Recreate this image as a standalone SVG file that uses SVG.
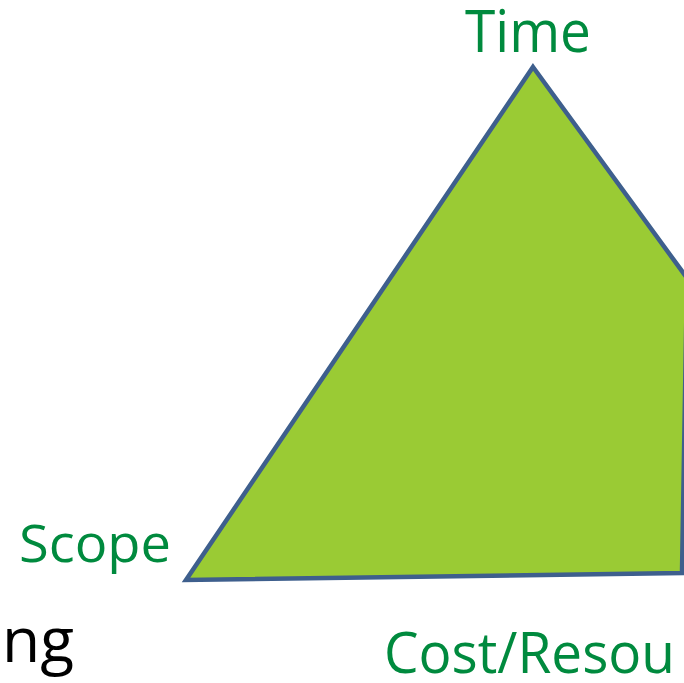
<svg xmlns="http://www.w3.org/2000/svg" width="684" height="683" viewBox="0 0 684 683">
<style>
.lbl{font-family:"Open Sans","Noto Sans","Liberation Sans",sans-serif;fill:#008a3e}
.blk{font-family:"Open Sans","Noto Sans","Liberation Sans",sans-serif;fill:#000}
</style>
<rect width="684" height="683" fill="#fff"/>
<g id="triangle">
<polygon points="533,67 687,278 682,573 186,580" fill="#9acb34" stroke="#3e5f8d" stroke-width="4.5" stroke-linejoin="miter"/>
</g>
<g id="time"><text class="lbl" x="465" y="52" font-size="58" textLength="126" lengthAdjust="spacingAndGlyphs">Time</text></g>
<g id="scope"><text class="lbl" x="19" y="562" font-size="51" textLength="152" lengthAdjust="spacingAndGlyphs">Scope</text></g>
<g id="cost"><text class="lbl" x="384" y="673" font-size="56" textLength="291" lengthAdjust="spacingAndGlyphs">Cost/Resou</text></g>
<g id="ng"><text class="blk" x="2" y="662" font-size="63" textLength="72" lengthAdjust="spacingAndGlyphs">ng</text></g>
</svg>
